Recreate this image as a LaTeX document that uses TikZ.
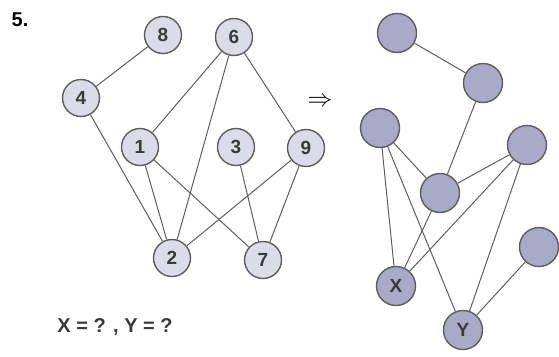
\documentclass[tikz,border=0pt]{standalone}
\usepackage{fontspec}
\setmainfont{Liberation Sans}
\definecolor{lfill}{HTML}{DCDCE8}
\definecolor{rfill}{HTML}{A9A9C8}
\definecolor{edgecol}{HTML}{5E5E5E}
\definecolor{txtcol}{HTML}{3A3A3A}
\begin{document}
\begin{tikzpicture}[x=1pt,y=-1pt,
  lnode/.style={circle,draw=edgecol,line width=1.4pt,fill=lfill,minimum size=37pt,inner sep=0pt,font=\fontsize{19}{19}\selectfont\bfseries,text=txtcol},
  rnode/.style={circle,draw=edgecol,line width=1.4pt,fill=rfill,minimum size=39pt,inner sep=0pt,font=\fontsize{19}{19}\selectfont\bfseries,text=txtcol},
  link/.style={draw=edgecol,line width=1pt}]
\useasboundingbox (0,0) rectangle (559,356);
\node[font=\fontsize{20}{20}\selectfont\bfseries,text=black] (title) at (20,20) {5.};
% left graph
\node[lnode] (n8) at (163,35) {8};
\node[lnode] (n6) at (234,37) {6};
\node[lnode] (n4) at (81,98) {4};
\node[lnode] (n1) at (140,147) {1};
\node[lnode] (n3) at (236,147) {3};
\node[lnode] (n9) at (306,148) {9};
\node[lnode] (n2) at (172,258) {2};
\node[lnode] (n7) at (263,260) {7};
\draw[link] (n8) -- (n4);
\draw[link] (n6) -- (n1);
\draw[link] (n6) -- (n2);
\draw[link] (n6) -- (n9);
\draw[link] (n4) -- (n2);
\draw[link] (n1) -- (n2);
\draw[link] (n1) -- (n7);
\draw[link] (n3) -- (n7);
\draw[link] (n9) -- (n2);
\draw[link] (n9) -- (n7);
\node[font=\fontsize{28}{28}\selectfont] (arrow) at (320,102) {$\Rightarrow$};
% right graph
\node[rnode] (ra) at (397,33) {};
\node[rnode] (rb) at (483,83) {};
\node[rnode] (rc) at (380,128) {};
\node[rnode] (rd) at (527,145) {};
\node[rnode] (re) at (440,193) {};
\node[rnode] (rf) at (539,247) {};
\node[rnode] (rx) at (396,286) {X};
\node[rnode] (ry) at (463,330) {Y};
\draw[link] (ra) -- (rb);
\draw[link] (rb) -- (re);
\draw[link] (rc) -- (re);
\draw[link] (rc) -- (rx);
\draw[link] (rc) -- (ry);
\draw[link] (rd) -- (re);
\draw[link] (rd) -- (rx);
\draw[link] (rd) -- (ry);
\draw[link] (re) -- (rx);
\draw[link] (rf) -- (ry);
\node[font=\fontsize{20}{20}\selectfont\bfseries,text=txtcol] (question) at (115,327) {X = ? , Y = ?};
\end{tikzpicture}
\end{document}
